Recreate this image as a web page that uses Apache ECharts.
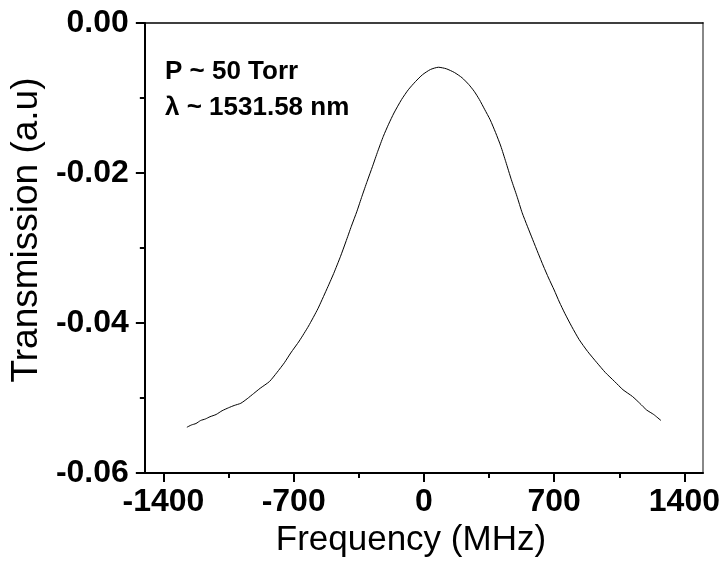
<!DOCTYPE html>
<html>
<head>
<meta charset="utf-8">
<script src="https://cdn.jsdelivr.net/npm/echarts@6/dist/echarts.min.js"></script>
<style>
  html, body { margin: 0; padding: 0; background: #fff; }
  #chart { width: 723px; height: 573px; }
</style>
</head>
<body>
<div id="chart"></div>
<script>
// Transmission line profile
const freqMHz = [
  -1274, -1250, -1225, -1200, -1175, -1150, -1117, -1085, -1050, -1020,
  -984, -950, -915, -880, -830, -790, -750, -716, -670, -620,
  -570, -524, -485, -448, -420, -390, -360, -333, -305, -276,
  -248, -218, -190, -161, -120, -84, -45, -8, 35, 78,
  120, 164, 205, 241, 270, 298, 326, 356, 385, 413,
  440, 470, 500, 528, 556, 585, 614, 642, 670, 700,
  728, 757, 795, 834, 880, 930, 975, 1025, 1070, 1121,
  1160, 1197, 1235, 1274
];
const transmission = [
  -0.0539, -0.0536, -0.0534, -0.0530, -0.0528, -0.0525, -0.0522, -0.0517, -0.0513, -0.0510,
  -0.0507, -0.0501, -0.0494, -0.0487, -0.0478, -0.0466, -0.0453, -0.0440, -0.0424, -0.0404,
  -0.0381, -0.0356, -0.0334, -0.0311, -0.0292, -0.0271, -0.0251, -0.0231, -0.0211, -0.0191,
  -0.0171, -0.0151, -0.0135, -0.0120, -0.0102, -0.0089, -0.0078, -0.0069, -0.0062, -0.0059,
  -0.0061, -0.0066, -0.0073, -0.0082, -0.0091, -0.0102, -0.0115, -0.0129, -0.0146, -0.0164,
  -0.0185, -0.0209, -0.0231, -0.0253, -0.0271, -0.0289, -0.0307, -0.0324, -0.0340, -0.0356,
  -0.0372, -0.0387, -0.0405, -0.0422, -0.0438, -0.0453, -0.0466, -0.0478, -0.0489, -0.0498,
  -0.0507, -0.0516, -0.0522, -0.0530
];
const xMajorTicks = [-1400, -700, 0, 700, 1400];
const xMinorTicks = [-1050, -350, 350, 1050];
const annotation = ['P ~ 50 Torr', 'λ ~ 1531.58 nm'];

const FONT = 'Liberation Sans, Arial, sans-serif';

const chart = echarts.init(document.getElementById('chart'));

const option = {
  animation: false,
  backgroundColor: '#fff',
  grid: { left: 144, top: 23, width: 559, height: 450 },
  xAxis: [
    {
      type: 'value',
      min: -1500,
      max: 1500,
      position: 'bottom',
      name: 'Frequency (MHz)',
      nameLocation: 'middle',
      nameGap: 42,
      nameTextStyle: { fontFamily: FONT, fontSize: 35, color: '#000', padding: [0, 26, 0, 0] },
      axisLine: { show: true, onZero: false, lineStyle: { color: '#000', width: 2 } },
      axisTick: { show: true, length: 9, customValues: xMajorTicks, lineStyle: { color: '#000', width: 2 } },
      axisLabel: {
        customValues: xMajorTicks, margin: 13,
        fontFamily: FONT, fontSize: 32, fontWeight: 'bold', color: '#000',
        formatter: v => String(v)
      },
      splitLine: { show: false }
    },
    {
      // minor ticks on the bottom
      type: 'value',
      min: -1500,
      max: 1500,
      position: 'bottom',
      axisLine: { show: false, onZero: false },
      axisTick: { show: true, length: 5, customValues: xMinorTicks, lineStyle: { color: '#000', width: 2 } },
      axisLabel: { show: false },
      splitLine: { show: false }
    },
    {
      // top frame line
      type: 'value',
      min: -1500,
      max: 1500,
      position: 'top',
      axisLine: { show: true, onZero: false, lineStyle: { color: '#000', width: 1.5 } },
      axisTick: { show: false },
      axisLabel: { show: false },
      splitLine: { show: false }
    }
  ],
  yAxis: [
    {
      type: 'value',
      min: -0.06,
      max: 0,
      interval: 0.02,
      position: 'left',
      name: 'Transmission (a.u)',
      nameLocation: 'middle',
      nameGap: 96,
      nameTextStyle: { fontFamily: FONT, fontSize: 37, color: '#000', padding: [0, 0, 0, 36] },
      axisLine: { show: true, onZero: false, lineStyle: { color: '#000', width: 2 } },
      axisTick: { show: true, length: 9, lineStyle: { color: '#000', width: 2 } },
      minorTick: { show: true, splitNumber: 2, length: 5, lineStyle: { color: '#000', width: 2 } },
      axisLabel: {
        margin: 16,
        fontFamily: FONT, fontSize: 32, fontWeight: 'bold', color: '#000',
        formatter: v => v.toFixed(2)
      },
      splitLine: { show: false }
    },
    {
      // right frame line
      type: 'value',
      min: -0.06,
      max: 0,
      position: 'right',
      axisLine: { show: true, onZero: false, lineStyle: { color: '#888', width: 2 } },
      axisTick: { show: false },
      axisLabel: { show: false },
      splitLine: { show: false }
    }
  ],
  graphic: [
    {
      type: 'text',
      left: 165,
      top: 54,
      style: {
        text: annotation.join('\n'),
        font: 'bold 26px ' + FONT,
        lineHeight: 36,
        fill: '#000'
      }
    }
  ],
  series: [
    {
      type: 'line',
      data: freqMHz.map((f, i) => [f, transmission[i]]),
      showSymbol: false,
      smooth: 0.2,
      lineStyle: { color: '#000', width: 1 }
    }
  ]
};

chart.setOption(option);
</script>
</body>
</html>
